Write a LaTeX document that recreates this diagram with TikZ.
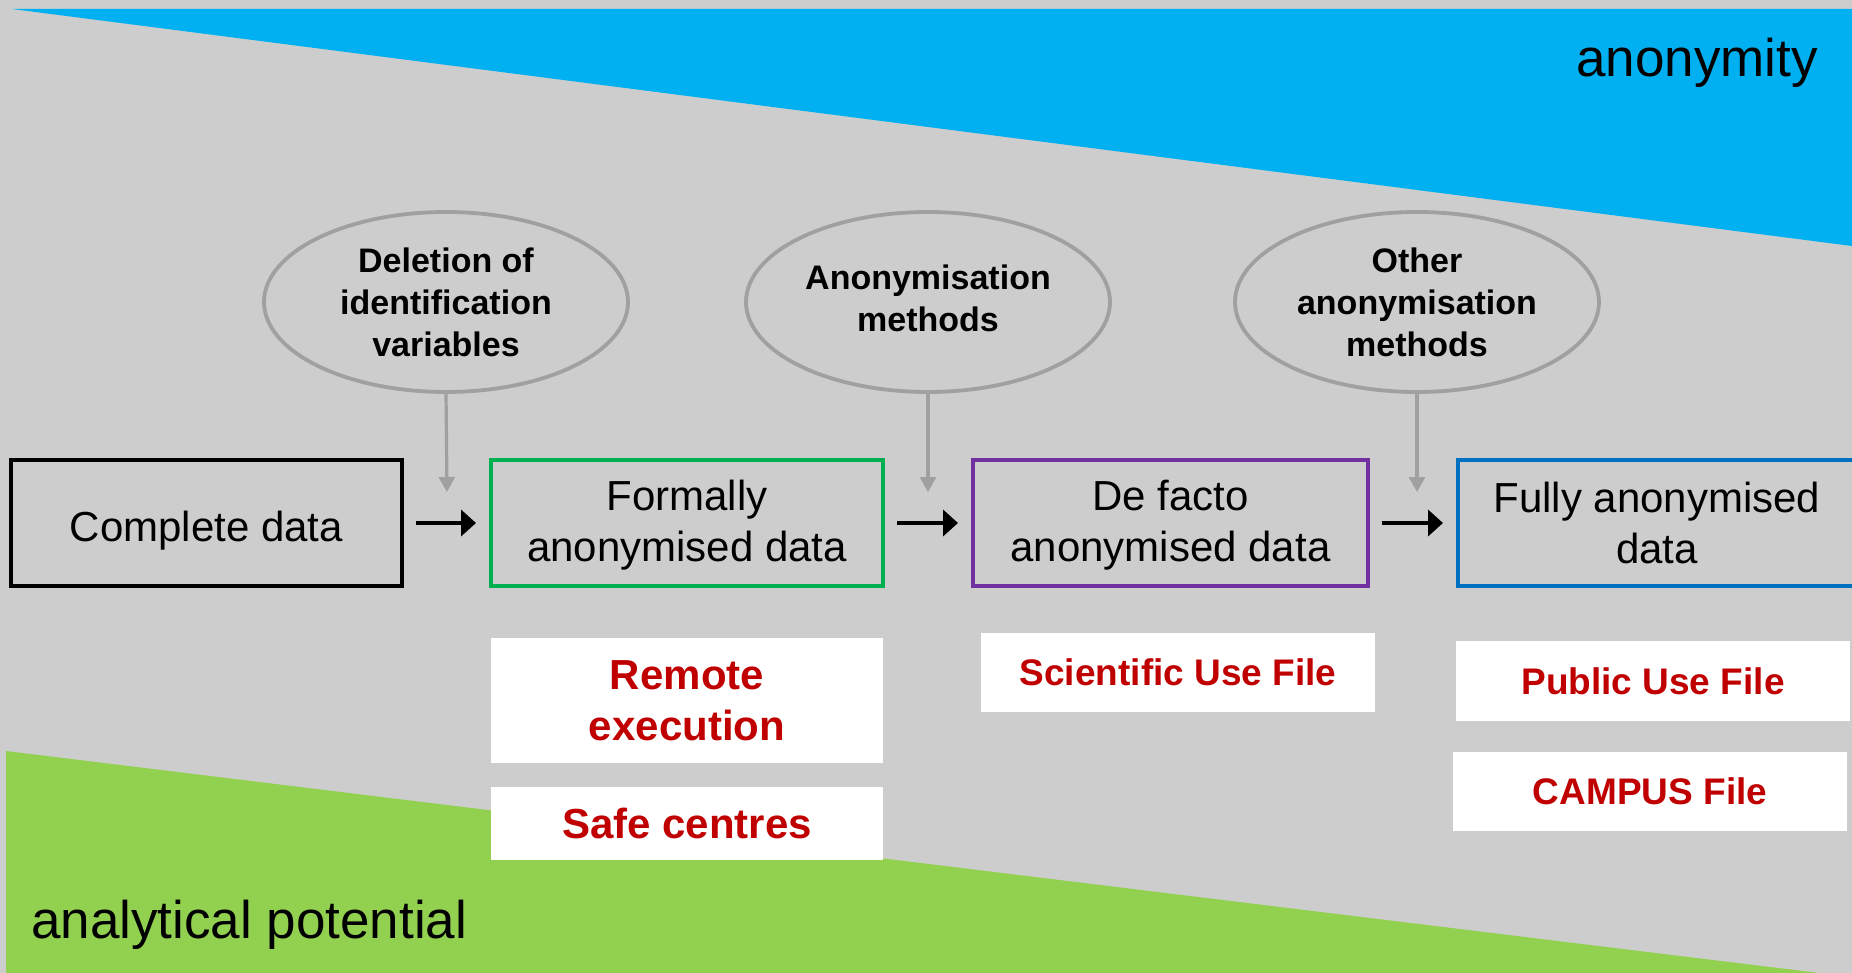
\documentclass[tikz,border=0pt]{standalone}
\usepackage{fontspec}
\setmainfont{Liberation Sans}
\usetikzlibrary{shapes.geometric,arrows.meta}
\definecolor{bggray}{HTML}{CDCDCD}
\definecolor{topblue}{HTML}{00B0F0}
\definecolor{botgreen}{HTML}{92D050}
\definecolor{boxgreen}{HTML}{00B050}
\definecolor{boxpurple}{HTML}{7030A0}
\definecolor{boxblue}{HTML}{0070C0}
\definecolor{ellgray}{HTML}{A0A0A0}
\definecolor{darkred}{HTML}{C00000}
\tikzset{
  databox/.style={rectangle, draw, line width=3.5pt, inner sep=0pt, outer sep=0pt,
    minimum height=126pt, align=center, font=\fontsize{42}{51}\selectfont},
  methodell/.style={ellipse, draw=ellgray, line width=3.8pt, inner sep=0pt, outer sep=0pt,
    minimum width=364pt, minimum height=180pt, align=center,
    font=\fontsize{34}{42}\selectfont\bfseries},
  usebox/.style={rectangle, fill=white, inner sep=0pt, outer sep=0pt, align=center,
    text=darkred, font=\fontsize{37}{51}\selectfont\bfseries},
  bigusebox/.style={usebox, font=\fontsize{42}{51}\selectfont\bfseries},
  flowarrow/.style={line width=4pt, -{Triangle[length=15pt,width=26pt]},
    shorten <=14pt, shorten >=15pt},
  grayarrow/.style={draw=ellgray, line width=3.2pt, -{Triangle[length=15pt,width=16pt]}},
}
\begin{document}
\begin{tikzpicture}[x=1pt,y=-1pt]
\useasboundingbox (0,0) rectangle (1852,973);
\fill[bggray] (0,0) rectangle (1852,973);
\fill[topblue] (12,9) -- (1852,9) -- (1852,246) -- cycle;
\fill[botgreen] (6,751) -- (1819,973) -- (6,973) -- cycle;

\node[anchor=base east, inner sep=0pt, font=\fontsize{53}{60}\selectfont] (anon) at (1818,77) {anonymity};
\node[anchor=base west, inner sep=0pt, font=\fontsize{53}{60}\selectfont] (anpot) at (31,938) {analytical potential};

\node[methodell] (e1) at (446,302) {Deletion of\\identification\\variables};
\node[methodell] (e2) at (928,302) {Anonymisation\\\raisebox{0pt}[\height][7pt]{methods}};
\node[methodell] (e3) at (1417,302) {Other\\anonymisation\\methods};

\node[databox, draw=black, minimum width=391pt, text height=36pt, text depth=0pt] (complete) at (206.5,523) {Complete data};
\node[databox, draw=boxgreen, minimum width=392pt] (formal) at (687,523) {Formally\\\raisebox{0pt}[\height][4pt]{anonymised data}};
\node[databox, draw=boxpurple, minimum width=395pt] (defacto) at (1170.5,523) {De facto\\\raisebox{0pt}[\height][4pt]{anonymised data}};
\node[databox, draw=boxblue, minimum width=398pt] (fully) at (1657,523) {Fully anonymised\\data};

\coordinate (t1) at (447,492);
\coordinate (t2) at (928,492);
\coordinate (t3) at (1417,492);
\draw[grayarrow] (e1.south) -- (t1);
\draw[grayarrow] (e2.south) -- (t2);
\draw[grayarrow] (e3.south) -- (t3);

\draw[flowarrow] (complete.east) -- (formal.west);
\draw[flowarrow] (formal.east) -- (defacto.west);
\draw[flowarrow] (defacto.east) -- (fully.west);

\node[bigusebox, minimum width=392pt, minimum height=125pt] (remote) at (687,700.5) {Remote\\execution};
\node[bigusebox, minimum width=392pt, minimum height=73pt] (safe) at (687,823.5) {Safe centres};
\node[usebox, minimum width=394pt, minimum height=79pt] (suf) at (1178,672.5) {Scientific Use File};
\node[usebox, minimum width=394pt, minimum height=80pt] (puf) at (1653,681) {Public Use File};
\node[usebox, minimum width=394pt, minimum height=79pt] (campus) at (1650,791.5) {CAMPUS File};
\end{tikzpicture}
\end{document}
